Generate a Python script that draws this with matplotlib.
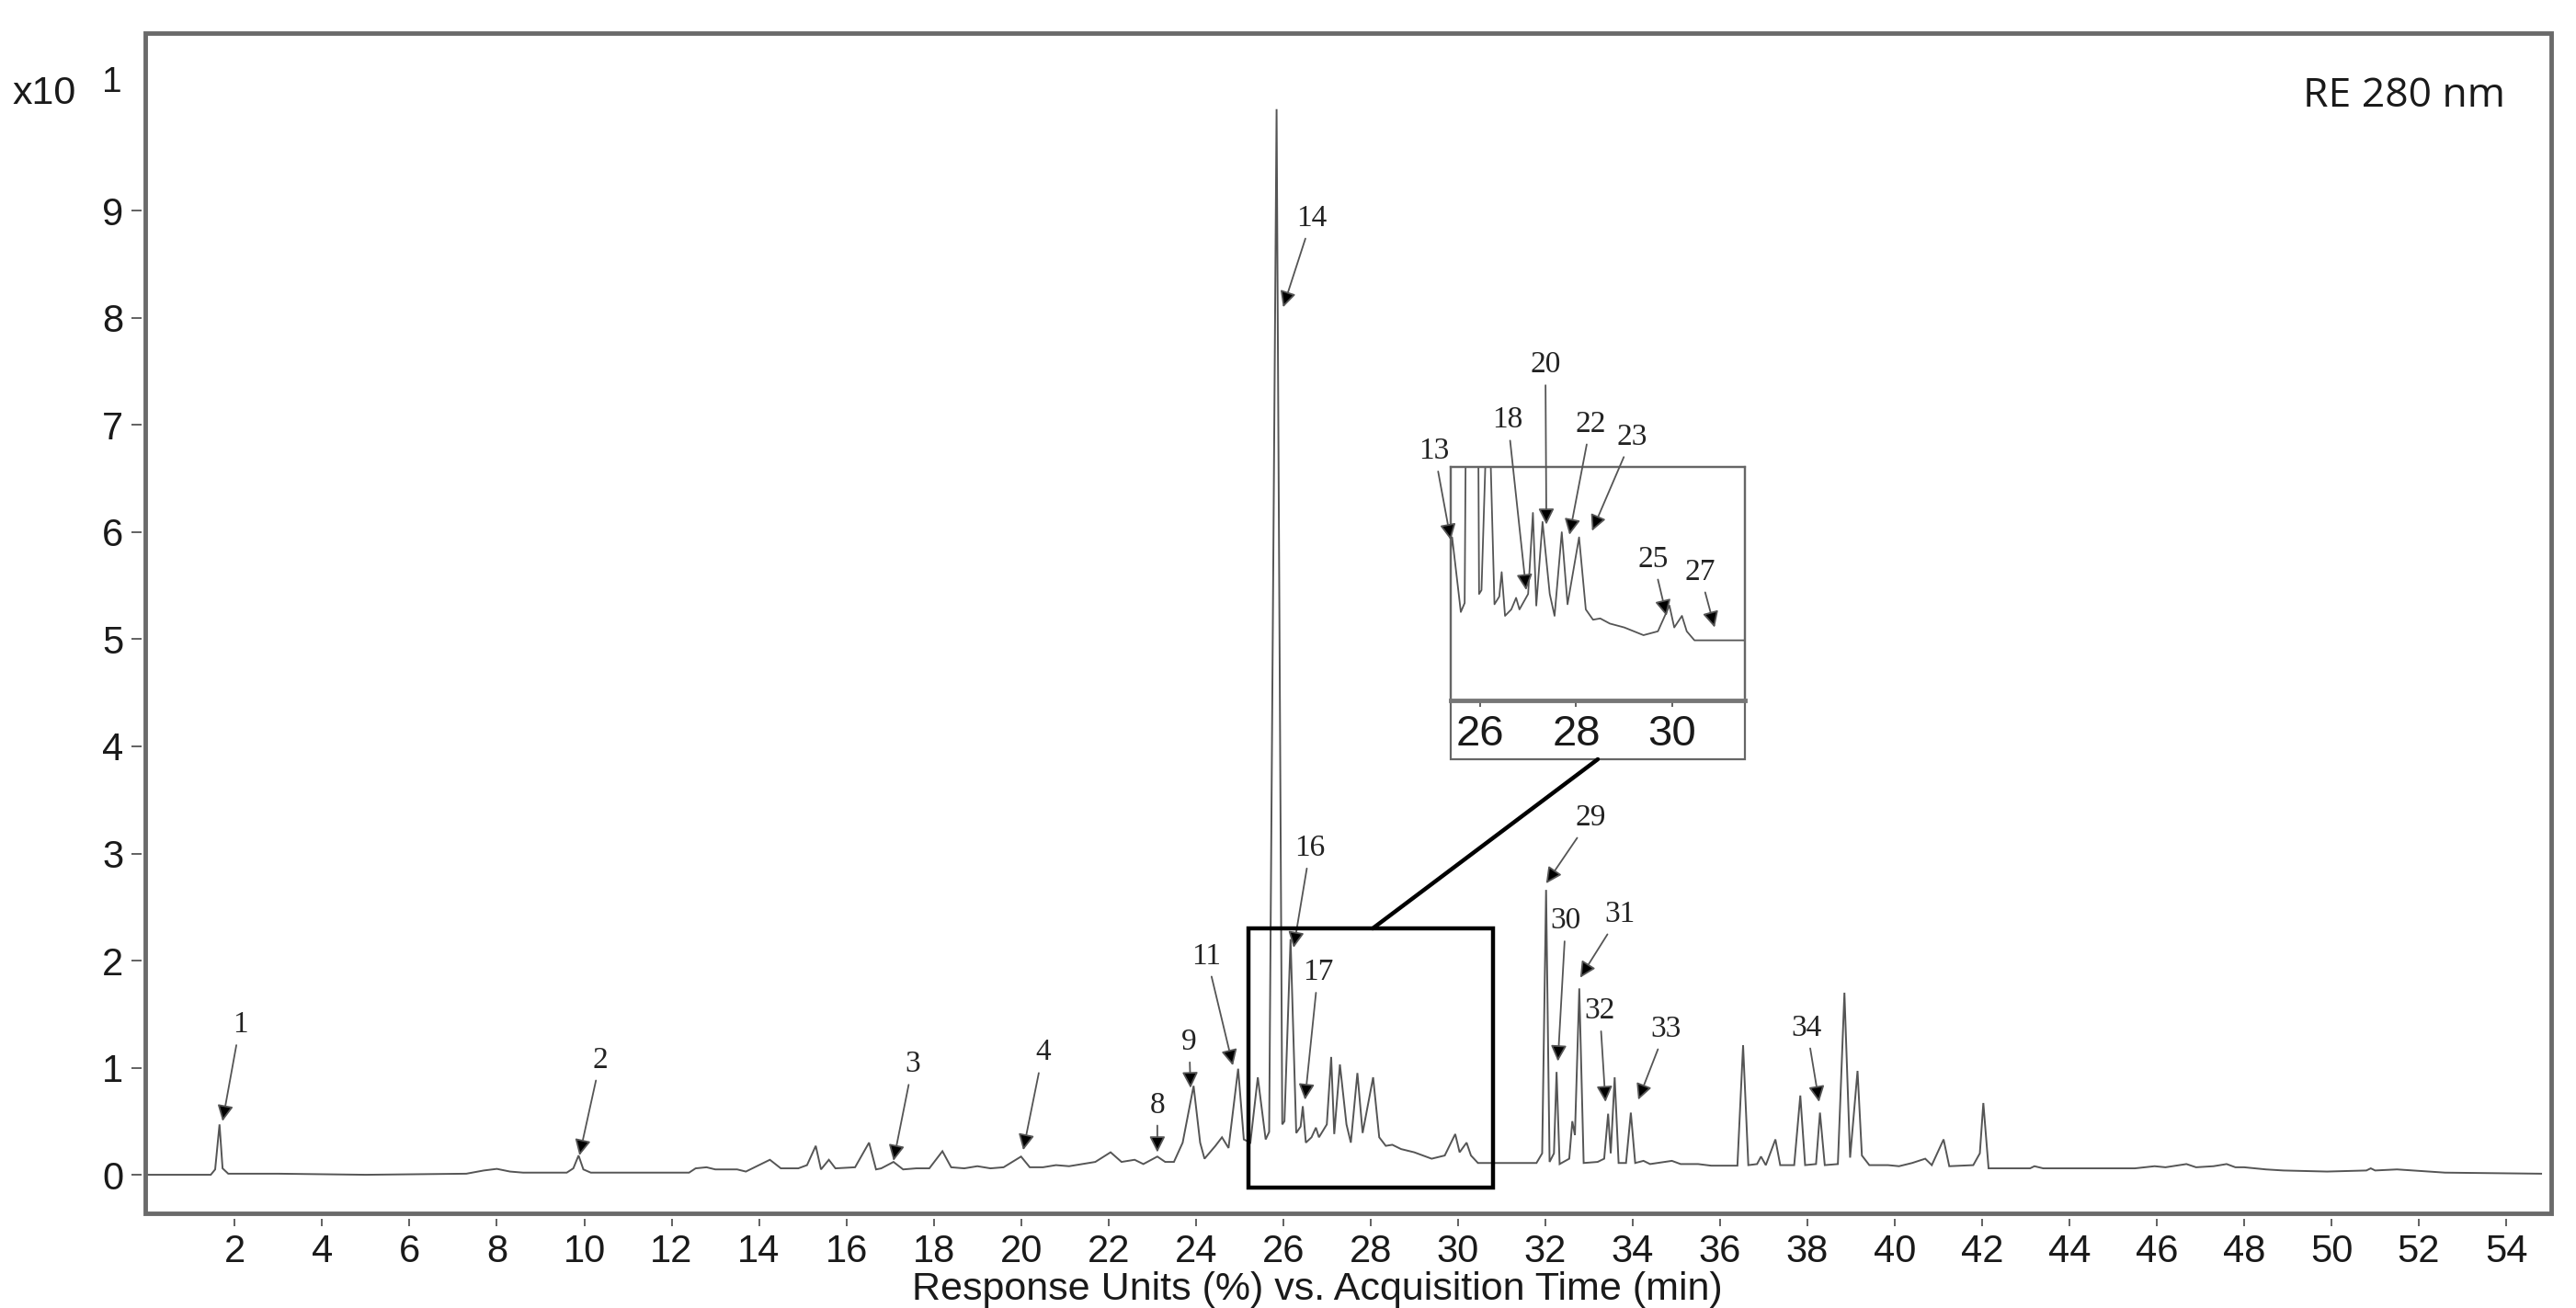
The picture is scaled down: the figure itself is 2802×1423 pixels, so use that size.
import matplotlib
matplotlib.use('Agg')
import matplotlib.pyplot as plt
from matplotlib.patches import Rectangle, ConnectionPatch

# ---------------- data ----------------
time_min = [0.0, 1.45, 1.55, 1.65, 1.72, 1.85, 3.0, 5.0, 7.3, 7.7, 8.0, 8.3, 8.6, 9.6, 9.75, 9.87, 9.98,
            10.15, 12.4, 12.55, 12.8, 13.0, 13.5, 13.7, 14.25, 14.5, 14.9, 15.1, 15.3, 15.42, 15.6, 15.75,
            16.2, 16.52, 16.68, 16.8, 17.08, 17.3, 17.6, 17.9, 18.2, 18.4, 18.7, 19.0, 19.3, 19.6, 20.0,
            20.2, 20.5, 20.8, 21.1, 21.4, 21.7, 22.05, 22.3, 22.6, 22.8, 23.12, 23.3, 23.5, 23.7, 23.95,
            24.1, 24.2, 24.45, 24.6, 24.75, 24.97, 25.1, 25.25, 25.42, 25.6, 25.68, 25.85, 25.98, 26.03,
            26.17, 26.3, 26.4, 26.45, 26.52, 26.65, 26.75, 26.82, 27.0, 27.1, 27.17, 27.3, 27.45, 27.55,
            27.7, 27.82, 28.06, 28.2, 28.35, 28.5, 28.7, 29.0, 29.4, 29.7, 29.94, 30.04, 30.2, 30.3,
            30.46, 31.0, 31.8, 31.93, 32.02, 32.1, 32.2, 32.26, 32.33, 32.55, 32.62, 32.68, 32.78, 32.88,
            33.2, 33.35, 33.44, 33.5, 33.59, 33.68, 33.85, 33.96, 34.06, 34.25, 34.4, 34.9, 35.1, 35.5,
            35.8, 36.4, 36.53, 36.65, 36.85, 36.94, 37.05, 37.27, 37.38, 37.7, 37.84, 37.95, 38.2, 38.29,
            38.4, 38.7, 38.85, 38.98, 39.15, 39.25, 39.42, 39.85, 40.1, 40.4, 40.7, 40.85, 41.12, 41.25,
            41.8, 41.95, 42.03, 42.15, 43.1, 43.2, 43.4, 45.5, 45.95, 46.2, 46.68, 46.9, 47.3, 47.6,
            47.8, 48.0, 48.5, 48.9, 49.9, 50.8, 50.9, 51.0, 51.5, 52.6, 54.8]
response = [0.0, 0.0, 0.05, 0.47, 0.06, 0.01, 0.01, 0.0, 0.01, 0.04, 0.055, 0.03, 0.02, 0.02, 0.06, 0.18, 0.05,
            0.02, 0.02, 0.06, 0.07, 0.05, 0.05, 0.03, 0.14, 0.06, 0.06, 0.09, 0.27, 0.05, 0.14, 0.06,
            0.07, 0.30, 0.05, 0.06, 0.12, 0.05, 0.06, 0.06, 0.22, 0.07, 0.06, 0.08, 0.06, 0.07, 0.17,
            0.07, 0.07, 0.09, 0.08, 0.10, 0.12, 0.21, 0.12, 0.14, 0.10, 0.17, 0.12, 0.12, 0.30, 0.83,
            0.30, 0.15, 0.27, 0.35, 0.25, 0.99, 0.33, 0.30, 0.91, 0.33, 0.40, 9.95, 0.47, 0.50,
            2.20, 0.39, 0.45, 0.64, 0.30, 0.35, 0.44, 0.35, 0.47, 1.10, 0.38, 1.03, 0.47, 0.30,
            0.95, 0.39, 0.91, 0.35, 0.27, 0.28, 0.24, 0.21, 0.15, 0.18, 0.38, 0.21, 0.30, 0.18,
            0.11, 0.11, 0.11, 0.20, 2.66, 0.12, 0.20, 0.96, 0.10, 0.15, 0.50, 0.37, 1.74, 0.11,
            0.12, 0.15, 0.57, 0.20, 0.91, 0.11, 0.11, 0.58, 0.11, 0.13, 0.10, 0.13, 0.10, 0.10,
            0.085, 0.085, 1.21, 0.09, 0.10, 0.17, 0.09, 0.33, 0.09, 0.09, 0.74, 0.09, 0.10, 0.58,
            0.09, 0.10, 1.70, 0.16, 0.97, 0.18, 0.09, 0.09, 0.08, 0.11, 0.15, 0.09, 0.33, 0.08,
            0.09, 0.20, 0.67, 0.06, 0.06, 0.08, 0.06, 0.06, 0.08, 0.07, 0.10, 0.07, 0.08, 0.10,
            0.07, 0.07, 0.05, 0.04, 0.03, 0.04, 0.06, 0.04, 0.05, 0.02, 0.01]

x_ticks = list(range(2, 56, 2))
y_ticks = list(range(0, 10))
inset_ticks = [26, 28, 30]

peak_labels = ['1', '2', '3', '4', '8', '9', '11', '14', '16', '17', '29', '30', '31', '32', '33', '34']
label_x = [2.12, 10.37, 17.52, 20.5, 23.12, 23.85, 24.25, 26.66, 26.62, 26.8, 33.04, 32.47, 33.71, 33.25, 34.76, 37.99]
label_y = [1.40, 1.07, 1.03, 1.14, 0.65, 1.24, 2.04, 8.93, 3.05, 1.89, 3.33, 2.37, 2.43, 1.53, 1.36, 1.37]
tip_x = [1.72, 9.89, 17.08, 20.05, 23.12, 23.88, 24.85, 26.0, 26.24, 26.5, 32.02, 32.29, 32.8, 33.38, 34.13, 38.27]
tip_y = [0.50, 0.18, 0.13, 0.23, 0.21, 0.81, 1.02, 8.1, 2.12, 0.70, 2.72, 1.06, 1.84, 0.68, 0.70, 0.68]

inset_labels = ['13', '18', '20', '22', '23', '25', '27']
inset_label_x = [25.05, 26.58, 27.36, 28.3, 29.17, 29.6, 30.57]
inset_label_y = [1.58, 1.82, 2.25, 1.79, 1.69, 0.74, 0.64]
inset_tip_x = [25.39, 26.96, 27.38, 27.86, 28.33, 29.88, 30.88]
inset_tip_y = [0.89, 0.50, 1.01, 0.93, 0.96, 0.30, 0.21]

# ---------------- figure ----------------
W, H = 2802, 1423
fig = plt.figure(figsize=(W / 100, H / 100), dpi=100)
fig.patch.set_facecolor('white')

def fx(px):
    return px / W

def fy(py):
    return 1 - py / H

ax = fig.add_axes([fx(158), fy(1320), fx(2775) - fx(158), fy(36) - fy(1320)])
ax.plot(time_min, response, color='#555555', lw=1.4, solid_joinstyle='miter')
ax.set_xlim(-0.05, 55.03)
ax.set_ylim(-0.36, 10.66)

for s in ax.spines.values():
    s.set_visible(False)
ax.spines['bottom'].set_position(('outward', 4.5))
ax.spines['left'].set_position(('outward', 3))
ax.add_patch(Rectangle((0, 0), 1, 1, transform=ax.transAxes, fill=False,
                       ec='#6a6a6a', lw=3.5, clip_on=False, zorder=5))

ax.set_xticks(x_ticks)
ax.set_xticklabels([str(t) for t in x_ticks])
ax.set_yticks(y_ticks)
ax.set_yticklabels([str(t) for t in y_ticks])
ax.tick_params(axis='x', direction='out', length=5.5, width=1.3, color='#555555', pad=6,
               labelsize=30)
ax.tick_params(axis='y', direction='out', length=8, width=1.3, color='#555555', pad=6,
               labelsize=30)
for lab in ax.get_xticklabels() + ax.get_yticklabels():
    lab.set_fontfamily('Liberation Sans')
    lab.set_color('#1a1a1a')

# selected region box
ax.add_patch(Rectangle((25.2, -0.12), 5.6, 2.42, fill=False, ec='black', lw=3.2, zorder=4))

arrow_kw = dict(arrowstyle='-|>', fc='black', ec='#555555', lw=1.3, mutation_scale=26,
                shrinkA=3, shrinkB=0)
for lab, lx, ly, tx, ty in zip(peak_labels, label_x, label_y, tip_x, tip_y):
    ax.annotate(lab, xy=(tx, ty), xytext=(lx, ly), ha='center', va='center',
                fontsize=24, family='Liberation Serif', color='#222222',
                arrowprops=arrow_kw, annotation_clip=False)

# texts
fig.text(fx(2725), fy(105), 'RE 280 nm', ha='right', va='center', fontsize=32,
         family='Open Sans', color='#1a1a1a')
fig.text(fx(14), fy(102), 'x10', ha='left', va='center', fontsize=31, family='Liberation Sans',
         color='#1a1a1a')
fig.text(fx(122), fy(90), '1', ha='center', va='center', fontsize=28, family='Liberation Sans',
         color='#1a1a1a')
fig.text(fx(1433), fy(1414), 'Response Units (%) vs. Acquisition Time (min)', ha='center',
         va='baseline', fontsize=31, family='Liberation Sans', color='#1a1a1a')

# ---------------- inset ----------------
axi = fig.add_axes([fx(1578), fy(762), fx(1898) - fx(1578), fy(508) - fy(762)])
axi.plot(time_min, response, color='#555555', lw=1.3)
axi.set_xlim(25.39, 31.51)
axi.set_ylim(-0.357, 1.457)
axi.set_yticks([])
axi.set_xticks(inset_ticks)
axi.set_xticklabels([str(t) for t in inset_ticks])
axi.tick_params(axis='x', direction='out', length=5, width=1.3, color='#555555', pad=6,
                labelsize=34)
for lab in axi.get_xticklabels():
    lab.set_fontfamily('Liberation Sans')
    lab.set_color('#1a1a1a')
for k in ['top', 'left', 'right']:
    axi.spines[k].set_color('#666666')
    axi.spines[k].set_linewidth(1.6)
axi.spines['bottom'].set_color('#777777')
axi.spines['bottom'].set_linewidth(3.5)
# outer frame around inset incl. labels
axi.add_patch(Rectangle((0, -0.252), 1, 1.252, transform=axi.transAxes, fill=False,
                        ec='#666666', lw=1.6, clip_on=False))

for lab, lx, ly, tx, ty in zip(inset_labels, inset_label_x, inset_label_y, inset_tip_x, inset_tip_y):
    axi.annotate(lab, xy=(tx, ty), xytext=(lx, ly), ha='center', va='center',
                 fontsize=24, family='Liberation Serif', color='#222222',
                 arrowprops=arrow_kw, annotation_clip=False)

con = ConnectionPatch(xyA=(28.05, 2.30), coordsA=ax.transData,
                      xyB=(28.45, -0.814), coordsB=axi.transData,
                      color='black', lw=3.2)
fig.add_artist(con)

fig.savefig('out.png', dpi=100, facecolor='white')
